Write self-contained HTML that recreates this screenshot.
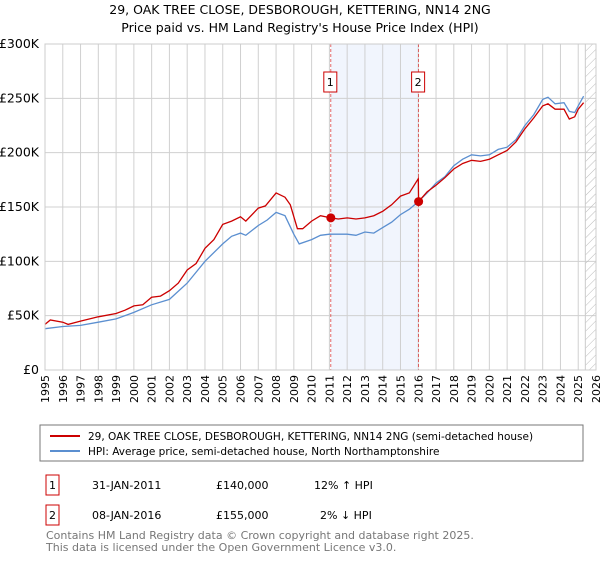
<!DOCTYPE html>
<html><head><meta charset="utf-8"><style>
body{margin:0;background:#fff;font-family:"Liberation Sans","DejaVu Sans",sans-serif;}
svg text{font-family:"DejaVu Sans","Liberation Sans",sans-serif;}
</style></head><body>
<svg width="600" height="560" xmlns="http://www.w3.org/2000/svg">
<defs><pattern id="hatch" width="6" height="6" patternUnits="userSpaceOnUse" patternTransform="rotate(45)"><line x1="0" y1="0" x2="0" y2="6" stroke="#bbb" stroke-width="1"/></pattern></defs>
<text x="300" y="14" text-anchor="middle" font-size="12.5">29, OAK TREE CLOSE, DESBOROUGH, KETTERING, NN14 2NG</text>
<text x="300" y="32" text-anchor="middle" font-size="12.5">Price paid vs. HM Land Registry's House Price Index (HPI)</text>
<g id="grid"></g>
<g id="marks"></g>
<g id="axes"></g>
<rect x="40" y="425" width="543" height="36" fill="#fff" stroke="#777"/>
<line x1="50" y1="436" x2="80" y2="436" stroke="#cc0000" stroke-width="2"/>
<text x="88" y="440" font-size="10.5">29, OAK TREE CLOSE, DESBOROUGH, KETTERING, NN14 2NG (semi-detached house)</text>
<line x1="50" y1="451" x2="80" y2="451" stroke="#5b8fd0" stroke-width="2"/>
<text x="88" y="455" font-size="10.5">HPI: Average price, semi-detached house, North Northamptonshire</text>
<g>
<rect x="46" y="475" width="13" height="20" fill="#fff" stroke="#cc0000"/>
<text x="52.5" y="489" font-size="11" text-anchor="middle">1</text>
<text x="92" y="489" font-size="11">31-JAN-2011</text>
<text x="216" y="489" font-size="11">£140,000</text>
<text x="314" y="489" font-size="11">12% ↑ HPI</text></g>
<g>
<rect x="46" y="505" width="13" height="20" fill="#fff" stroke="#cc0000"/>
<text x="52.5" y="519" font-size="11" text-anchor="middle">2</text>
<text x="92" y="519" font-size="11">08-JAN-2016</text>
<text x="216" y="519" font-size="11">£155,000</text>
<text x="320" y="519" font-size="11">2% ↓ HPI</text></g>
<text x="46" y="539" font-size="11" fill="#777">Contains HM Land Registry data © Crown copyright and database right 2025.</text>
<text x="46" y="551" font-size="11" fill="#777">This data is licensed under the Open Government Licence v3.0.</text>
</svg>
<script>
const propT=[1995,1995.3,1996,1996.3,1997,1998,1999,1999.5,2000,2000.5,2001,2001.5,2002,2002.5,2003,2003.5,2004,2004.5,2005,2005.5,2006,2006.3,2007,2007.4,2008,2008.5,2008.8,2009.2,2009.5,2010,2010.5,2011.08,2011.5,2012,2012.5,2013,2013.5,2014,2014.5,2015,2015.5,2016.0,2016.02,2016.5,2017,2017.5,2018,2018.5,2019,2019.5,2020,2020.5,2021,2021.5,2022,2022.5,2023,2023.3,2023.7,2024.2,2024.5,2024.8,2025.0,2025.3];
const propV=[42,46,44,42,45,49,52,55,59,60,67,68,73,80,92,98,112,120,134,137,141,137,149,151,163,159,152,130,130,137,142,140,139,140,139,140,142,146,152,160,163,176,155,164,170,177,185,190,193,192,194,198,202,210,222,232,243,245,240,240,231,233,240,246];
const hpiT=[1995,1996,1997,1998,1999,2000,2001,2002,2003,2004,2005,2005.5,2006,2006.3,2007,2007.5,2008,2008.5,2009.0,2009.3,2010,2010.5,2011,2012,2012.5,2013,2013.5,2014,2014.5,2015,2015.5,2016,2016.5,2017,2017.5,2018,2018.5,2019,2019.5,2020,2020.5,2021,2021.5,2022,2022.5,2023,2023.3,2023.7,2024.2,2024.5,2024.8,2025.0,2025.3];
const hpiV=[38,40,41,44,47,53,60,65,80,100,116,123,126,124,133,138,145,142,125,116,120,124,125,125,124,127,126,131,136,143,148,155,163,172,178,188,194,198,197,198,203,205,212,225,235,249,251,245,246,238,237,243,252];
const saleT=[2011.08,2016.02];
const saleV=[140,155];
const saleLabels=["1","2"];
const yTicks=[0,50,100,150,200,250,300];
const yTickLabels=["£0","£50K","£100K","£150K","£200K","£250K","£300K"];
const xYears=[];for(let y=1995;y<=2026;y++)xYears.push(y);
const X0=45,X1=596,Y0=370,Y1=44;
const sx=t=>X0+(t-1995)/(2026-1995)*(X1-X0);
const sy=v=>Y0-v/300*(Y0-Y1);
const NS="http://www.w3.org/2000/svg";
function mk(p,tag,a){const e=document.createElementNS(NS,tag);for(const k in a)e.setAttribute(k,a[k]);p.appendChild(e);return e;}
const grid=document.getElementById('grid'),marks=document.getElementById('marks'),axes=document.getElementById('axes');
const band=mk(grid,'rect',{x:sx(saleT[0]),y:Y1,width:sx(saleT[1])-sx(saleT[0]),height:Y0-Y1,fill:'#eef3fc',opacity:0.8});


xYears.forEach(y=>{const l=mk(grid,'line',{x1:sx(y),x2:sx(y),y1:Y1,y2:Y0,stroke:'#d0d0d0','stroke-width':1});


const t=mk(axes,'text',{x:0,y:0,'font-size':11,'text-anchor':'end',transform:`translate(${sx(y)+4},${Y0+5}) rotate(-90)`});t.textContent=y;

});
yTicks.forEach((v,i)=>{const l=mk(grid,'line',{x1:X0,x2:X1,y1:sy(v),y2:sy(v),stroke:'#d0d0d0','stroke-width':1});


const t=mk(axes,'text',{x:X0-6,y:sy(v)+4,'font-size':12.5,'text-anchor':'end'});t.textContent=yTickLabels[i];

});
const hx=sx(2025.4);
const h=mk(grid,'rect',{x:hx,y:Y1,width:X1-hx,height:Y0-Y1,fill:'url(#hatch)',stroke:'#ccc'});


const pts=(T,V)=>T.map((t,i)=>sx(t).toFixed(1)+','+sy(V[i]).toFixed(1)).join(' ');
saleT.forEach((t,i)=>{const l=mk(marks,'line',{x1:sx(t),x2:sx(t),y1:Y1,y2:Y0,stroke:'#dd4444','stroke-dasharray':'3,2','stroke-width':0.8});


const b=mk(marks,'rect',{x:sx(t)-7,y:72,width:13,height:20,fill:'#fff',stroke:'#cc0000'});


const tx=mk(marks,'text',{x:sx(t)-0.5,y:86,'font-size':11,'text-anchor':'middle'});tx.textContent=saleLabels[i];

});
const hl=mk(marks,'polyline',{points:pts(hpiT,hpiV),fill:'none',stroke:'#5b8fd0','stroke-width':1.3});


const pl=mk(marks,'polyline',{points:pts(propT,propV),fill:'none',stroke:'#cc0000','stroke-width':1.3});


saleT.forEach((t,i)=>{const c=mk(marks,'circle',{cx:sx(t),cy:sy(saleV[i]),r:4.5,fill:'#cc0000'});

});
const ax=mk(axes,'rect',{x:X0,y:Y1,width:X1-X0,height:Y0-Y1,fill:'none',stroke:'#ccc'});


</script>
</body></html>
